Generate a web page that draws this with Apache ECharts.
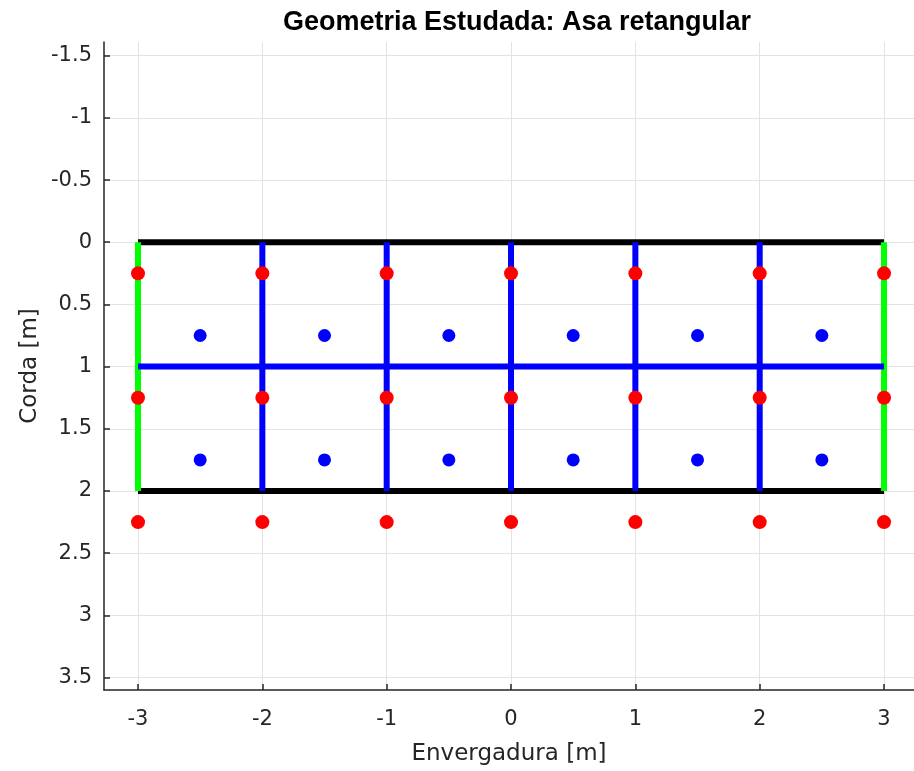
<!DOCTYPE html>
<html>
<head>
<meta charset="utf-8">
<script src="https://cdn.jsdelivr.net/npm/echarts@6/dist/echarts.min.js"></script>
<style>
  html, body { margin: 0; padding: 0; background: #fff; }
  #chart { width: 914px; height: 771px; }
</style>
</head>
<body>
<div id="chart"></div>
<script>
// Span stations (panel edges) along the wing [m]
const spanStations = [-3, -2, -1, 0, 1, 2, 3];
// Leading and trailing edges, chord positions [m]
const chordEdges = [0, 2];
// Mid-chord line splitting the two chordwise panels [m]
const midChord = 1;
// Vortex ring / collocation points
const redChordPos = [0.25, 1.25, 2.25];
const ctrlSpanPos = [-2.5, -1.5, -0.5, 0.5, 1.5, 2.5];
const ctrlChordPos = [0.75, 1.75];
// Tick labels
const xTicks = [-3, -2, -1, 0, 1, 2, 3];
const yTicks = [-1.5, -1, -0.5, 0, 0.5, 1, 1.5, 2, 2.5, 3, 3.5];

const tipL = spanStations[0];
const tipR = spanStations[spanStations.length - 1];

function seg(p, q, color, width, z) {
  return {
    type: 'line', data: [p, q], showSymbol: false, symbol: 'none',
    lineStyle: { color: color, width: width, cap: 'butt' },
    z: z, silent: true, animation: false
  };
}

const series = [];
// Leading and trailing edges (black)
chordEdges.forEach(c => series.push(seg([tipL, c], [tipR, c], '#000000', 6, 2)));
// Wing tips (green)
[tipL, tipR].forEach(s => series.push(seg([s, chordEdges[0]], [s, chordEdges[1]], '#00ff00', 6, 3)));
// Inner panel divisions (blue)
spanStations.slice(1, -1).forEach(s => series.push(seg([s, chordEdges[0]], [s, chordEdges[1]], '#0000ff', 6, 4)));
series.push(seg([tipL, midChord], [tipR, midChord], '#0000ff', 6, 4));

// Red points
const redPts = [];
redChordPos.forEach(c => spanStations.forEach(s => redPts.push([s, c])));
series.push({
  type: 'scatter', data: redPts, symbol: 'circle', symbolSize: 14,
  itemStyle: { color: '#ff0000', opacity: 1 }, z: 5, animation: false
});
// Blue control points
const bluePts = [];
ctrlChordPos.forEach(c => ctrlSpanPos.forEach(s => bluePts.push([s, c])));
series.push({
  type: 'scatter', data: bluePts, symbol: 'circle', symbolSize: 13,
  itemStyle: { color: '#0000ff', opacity: 1 }, z: 6, animation: false
});

const labelFont = '"DejaVu Sans", "Liberation Sans", Arial, sans-serif';
const titleFont = '"Liberation Sans", Arial, Helvetica, sans-serif';
const axisColor = '#262626';

const chart = echarts.init(document.getElementById('chart'), null, { renderer: 'canvas' });
chart.setOption({
  backgroundColor: '#ffffff',
  animation: false,
  title: {
    text: 'Geometria Estudada: Asa retangular',
    left: 512, top: 4, textAlign: 'center',
    textStyle: { fontFamily: titleFont, fontSize: 27, fontWeight: 'bold', color: '#000' }
  },
  grid: { left: 104, right: 0, top: 42, bottom: 81, containLabel: false, outerBoundsMode: 'none' },
  xAxis: {
    type: 'value', min: -3.2735, max: 3.241,
    name: 'Envergadura [m]', nameLocation: 'middle', nameGap: 53, nameMoveOverlap: false,
    nameTextStyle: { fontFamily: labelFont, fontSize: 23, color: axisColor },
    axisLine: { show: true, onZero: false, lineStyle: { color: axisColor, width: 1.5 } },
    axisTick: { show: true, inside: true, length: 6, customValues: xTicks, lineStyle: { color: axisColor, width: 1.5 } },
    axisLabel: { customValues: xTicks, margin: 19, fontFamily: labelFont, fontSize: 21, color: axisColor,
      formatter: v => String(v) },
    splitLine: { show: true, lineStyle: { color: '#e3e3e3', width: 1 } }
  },
  yAxis: {
    type: 'value', inverse: true, min: -1.61, max: 3.6,
    name: 'Corda [m]', nameLocation: 'middle', nameGap: 62, nameRotate: 90, nameMoveOverlap: false,
    nameTextStyle: { fontFamily: labelFont, fontSize: 23, color: axisColor },
    axisLine: { show: true, onZero: false, lineStyle: { color: axisColor, width: 1.5 } },
    axisTick: { show: true, inside: true, length: 6, customValues: yTicks, lineStyle: { color: axisColor, width: 1.5 } },
    axisLabel: { customValues: yTicks, margin: 12, fontFamily: labelFont, fontSize: 21, color: axisColor,
      formatter: v => String(v) },
    splitLine: { show: true, lineStyle: { color: '#e3e3e3', width: 1 } }
  },
  series: series
});
</script>
</body>
</html>
